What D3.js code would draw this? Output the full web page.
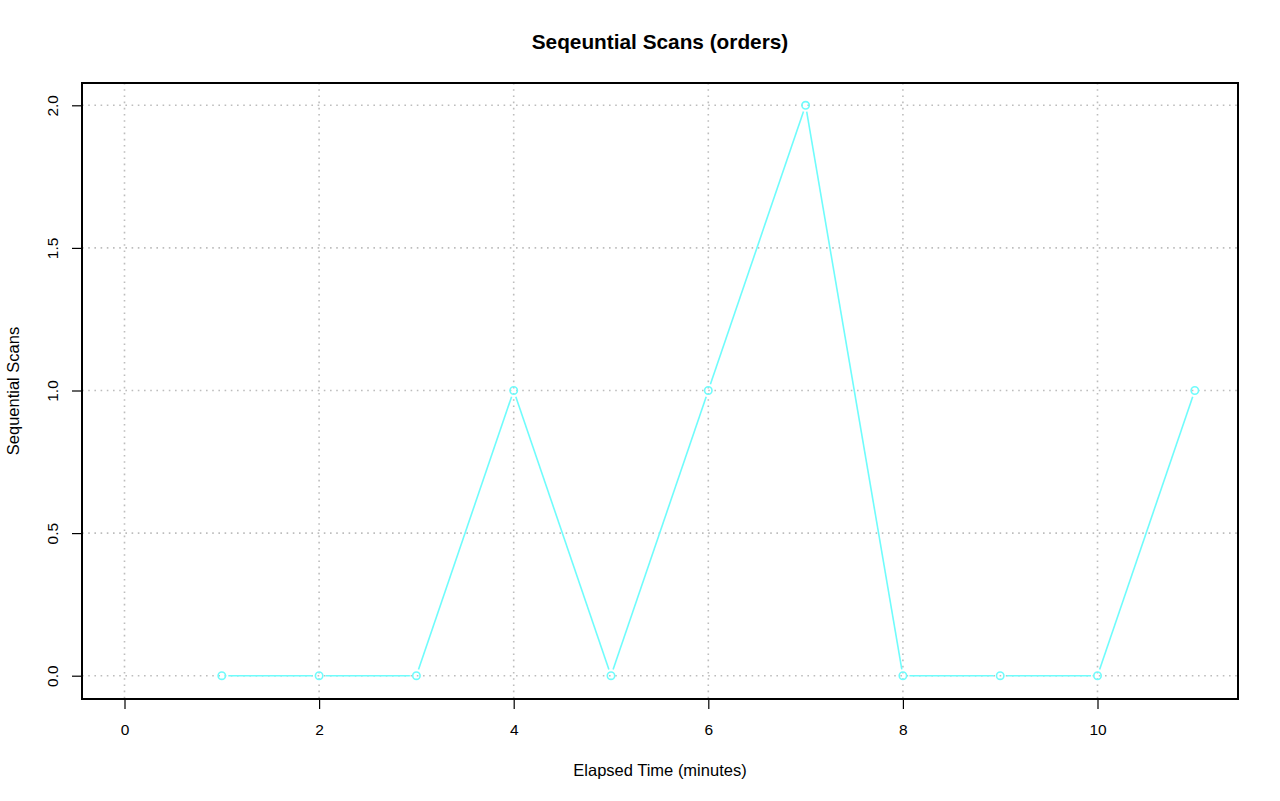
<!DOCTYPE html>
<html>
<head>
<meta charset="utf-8">
<script src="https://cdn.jsdelivr.net/npm/d3@7"></script>
<style>
html,body{margin:0;padding:0;background:#fff;}
svg{display:block;font-family:"Liberation Sans",Arial,Helvetica,sans-serif;}
</style>
</head>
<body>
<svg id="chart" width="1280" height="801"></svg>
<script>
const minutes = [1,2,3,4,5,6,7,8,9,10,11];
const seqScans = [0,0,0,1,0,1,2,0,0,0,1];
const xTicks = [0,2,4,6,8,10];
const yTicks = [0,0.5,1,1.5,2];
const yTickLabels = ["0.0","0.5","1.0","1.5","2.0"];
const titleText = "Seqeuntial Scans (orders)";
const xLabel = "Elapsed Time (minutes)";
const yLabel = "Sequential Scans";

const svg = d3.select("#chart");
const box = {left:82, right:1238, top:83, bottom:699};
const x = d3.scaleLinear().domain([0,10]).range([124.5,1097.5]);
const y = d3.scaleLinear().domain([0,2]).range([675.7,105.3]);
const lineColor = "#6ffcfc";
const font = "Liberation Sans,Arial,sans-serif";

// grid
const grid = svg.append("g");
xTicks.forEach(t=>{
  grid.append("line").attr("x1",x(t)).attr("x2",x(t)).attr("y1",box.top).attr("y2",box.bottom)
    .attr("stroke","#bdbdbd").attr("stroke-dasharray","1.6,4.6").attr("stroke-width",1.6);
});
yTicks.forEach(t=>{
  grid.append("line").attr("x1",box.left).attr("x2",box.right).attr("y1",y(t)).attr("y2",y(t))
    .attr("stroke","#bdbdbd").attr("stroke-dasharray","1.6,4.6").attr("stroke-width",1.6);
});

// line segments with gaps (type="b")
const pts = minutes.map((m,i)=>[x(m), y(seqScans[i])]);
const gap = 6.5;
for(let i=0;i<pts.length-1;i++){
  const [x0,y0]=pts[i],[x1,y1]=pts[i+1];
  const dx=x1-x0, dy=y1-y0, L=Math.hypot(dx,dy);
  if(L<=2*gap) continue;
  const ux=dx/L, uy=dy/L;
  svg.append("line").attr("x1",x0+ux*gap).attr("y1",y0+uy*gap)
    .attr("x2",x1-ux*gap).attr("y2",y1-uy*gap)
    .attr("stroke",lineColor).attr("stroke-width",1.6);
}
svg.append("g").selectAll("circle").data(minutes).join("circle")
  .attr("cx",(d)=>x(d)).attr("cy",(d,i)=>y(seqScans[i])).attr("r",3.7)
  .attr("fill","none").attr("stroke",lineColor).attr("stroke-width",1.6);

// box
svg.append("rect").attr("x",box.left).attr("y",box.top)
  .attr("width",box.right-box.left).attr("height",box.bottom-box.top)
  .attr("fill","none").attr("stroke","#000").attr("stroke-width",2);

// x axis
const xAxis = d3.axisBottom(x).tickValues(xTicks).tickSize(10).tickPadding(15).tickFormat(d3.format("d"));
const gx = svg.append("g").attr("transform",`translate(0,${box.bottom})`).call(xAxis);
gx.select(".domain").remove();
gx.selectAll("line").attr("stroke","#000").attr("stroke-width",1.2);
gx.selectAll("text").attr("font-size",15.5).attr("font-family",font).attr("fill","#000");

// y axis
const yAxis = d3.axisLeft(y).tickValues(yTicks).tickSize(10).tickFormat((d,i)=>yTickLabels[i]);
const gy = svg.append("g").attr("transform",`translate(${box.left},0)`).call(yAxis);
gy.select(".domain").remove();
gy.selectAll("line").attr("stroke","#000").attr("stroke-width",1.2);
gy.selectAll("text")
  .attr("font-size",15.5).attr("font-family",font).attr("fill","#000")
  .attr("x",null).attr("dy",null)
  .attr("text-anchor","middle")
  .attr("transform","translate(-30,0) rotate(-90)")
  .attr("dominant-baseline","central");

// title and labels
svg.append("text").attr("x",(box.left+box.right)/2).attr("y",49).attr("text-anchor","middle")
  .attr("font-size",20.8).attr("font-weight","bold").attr("font-family",font).text(titleText);
svg.append("text").attr("x",(box.left+box.right)/2).attr("y",776).attr("text-anchor","middle")
  .attr("font-size",16.5).attr("font-family",font).text(xLabel);
svg.append("text").attr("transform",`translate(19,${(box.top+box.bottom)/2}) rotate(-90)`)
  .attr("text-anchor","middle").attr("font-size",16.5).attr("font-family",font).text(yLabel);
</script>
</body>
</html>
